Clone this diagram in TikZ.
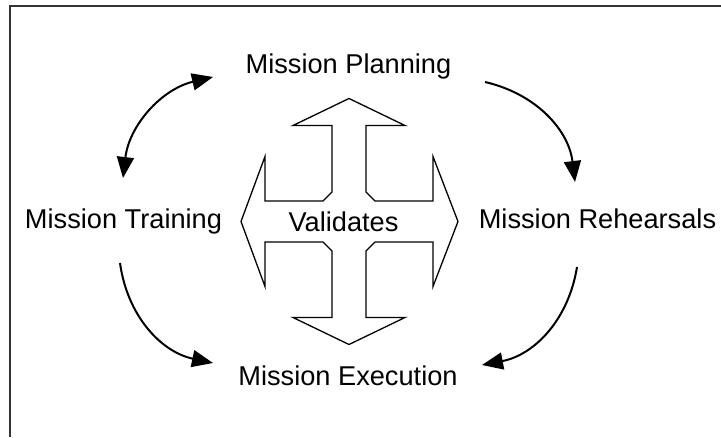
\documentclass[tikz,border=0pt]{standalone}
\usepackage{fontspec}
\setmainfont{Liberation Sans}
\usetikzlibrary{arrows.meta}
\begin{document}
\begin{tikzpicture}[x=1pt,y=1pt,
  lbl/.style={anchor=base,inner sep=0pt,font=\fontsize{27.2}{31}\selectfont},
  flow/.style={line width=2pt,-{Triangle[length=21pt,width=17pt]}},
  crossline/.style={line width=1.3pt,draw=black,fill=white,line join=miter}]
\useasboundingbox (0,0) rectangle (721,437);
\fill[white] (0,0) rectangle (721,437);
% frame (only top and left edges visible)
\draw[line width=2pt,draw=black!80] (9.5,0) -- (9.5,431) -- (721,431);
% cross of arrows
\begin{scope}[shift={(349,215.5)}]
\def\s{17}\def\h{20.5}\def\c{9}
\draw[crossline] (0,123) -- (56,96) -- (\s,96) -- (\s,\h+\c) -- (\s+\c,\h) -- (84,\h) -- (84,65)
  -- (109,0) -- (84,-65) -- (84,-\h) -- (\s+\c,-\h) -- (\s,-\h-\c) -- (\s,-96) -- (56,-96)
  -- (0,-123) -- (-56,-96) -- (-\s,-96) -- (-\s,-\h-\c) -- (-\s-\c,-\h) -- (-84,-\h) -- (-84,-65)
  -- (-108,0) -- (-84,65) -- (-84,\h) -- (-\s-\c,\h) -- (-\s,\h+\c) -- (-\s,96) -- (-56,96) -- cycle;
\end{scope}
% labels
\node[lbl] (plan) at (348.5,363) {Mission Planning};
\node[lbl] (train) at (123.5,208) {Mission Training};
\node[lbl] (reh) at (597.5,208) {Mission Rehearsals};
\node[lbl] (exec) at (348,52) {Mission Execution};
\node[lbl] (val) at (343.5,205) {Validates};
% connector end points
\coordinate (tl1) at (213,360);
\coordinate (tl2) at (123,259);
\coordinate (tr1) at (485,355);
\coordinate (tr2) at (575,255);
\coordinate (br1) at (577,170);
\coordinate (br2) at (482,72);
\coordinate (bl1) at (120,174);
\coordinate (bl2) at (213,74);
% connectors
\draw[flow,{Triangle[length=21pt,width=17pt]}-{Triangle[length=21pt,width=17pt]}] (tl1) to[bend right=35] (tl2);
\draw[flow] (tr1) to[bend left=35] (tr2);
\draw[flow] (br1) to[bend left=35] (br2);
\draw[flow] (bl1) to[bend right=35] (bl2);
\end{tikzpicture}
\end{document}
